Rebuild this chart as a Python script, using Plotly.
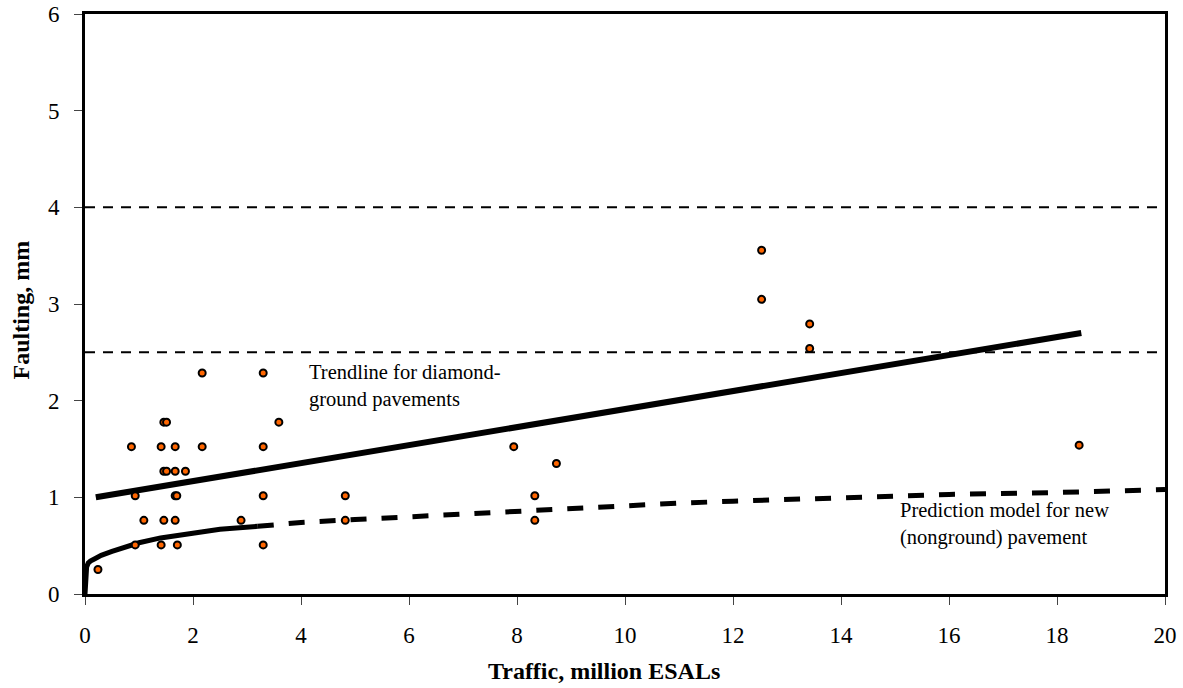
import plotly.graph_objects as go

# ---- data ----
traffic = [0.24, 0.86, 0.93, 0.93, 1.09, 1.41, 1.41, 1.46, 1.51, 1.46, 1.51, 1.46,
           1.67, 1.67, 1.67, 1.70, 1.67, 1.71, 1.86, 2.17, 2.17, 2.89,
           3.30, 3.30, 3.30, 3.30, 3.59, 4.82, 4.82, 7.94, 8.33, 8.33, 8.73,
           12.53, 12.53, 13.42, 13.42, 18.41]
faulting = [0.254, 1.524, 1.016, 0.508, 0.762, 1.524, 0.508, 1.778, 1.778, 1.27, 1.27, 0.762,
            1.524, 1.27, 1.016, 1.016, 0.762, 0.508, 1.27, 2.286, 1.524, 0.762,
            2.286, 1.524, 1.016, 0.508, 1.778, 1.016, 0.762, 1.524, 1.016, 0.762, 1.35,
            3.556, 3.048, 2.794, 2.54, 1.54]

trend_x = [0.2, 18.45]
trend_y = [1.0, 2.70]

pred_x_near = [0, 0.01, 0.03, 0.06, 0.1, 0.2, 0.3, 0.5, 0.75, 1.0, 1.4, 2.0, 2.5, 3.2]
pred_y_near = [0, 0.2, 0.28, 0.32, 0.34, 0.37, 0.40, 0.44, 0.49, 0.53, 0.58, 0.63, 0.67, 0.70]
pred_x_far = [3.2, 4, 5, 6, 7, 8, 9, 10, 11, 12, 14, 16, 18, 20]
pred_y_far = [0.70, 0.74, 0.77, 0.80, 0.83, 0.86, 0.89, 0.91, 0.94, 0.96, 1.0, 1.03, 1.05, 1.08]

limit_levels = [2.5, 4.0]
x_range = [0, 20]
y_range = [0, 6]

FONT = "Liberation Serif, Times New Roman, serif"

fig = go.Figure()

for lv in limit_levels:
    fig.add_trace(go.Scatter(x=x_range, y=[lv, lv], mode="lines",
                             line=dict(color="black", width=2, dash="10px,8px"),
                             hoverinfo="skip", showlegend=False))

fig.add_trace(go.Scatter(x=pred_x_near, y=pred_y_near, mode="lines",
                         line=dict(color="black", width=5),
                         showlegend=False))
fig.add_trace(go.Scatter(x=pred_x_far, y=pred_y_far, mode="lines",
                         line=dict(color="black", width=5, dash="16px,15px"),
                         showlegend=False))
fig.add_trace(go.Scatter(x=trend_x, y=trend_y, mode="lines",
                         line=dict(color="black", width=6),
                         showlegend=False))
fig.add_trace(go.Scatter(x=traffic, y=faulting, mode="markers",
                         marker=dict(size=7, color="#FF6600",
                                     line=dict(color="black", width=2)),
                         showlegend=False))

PX = 54.0   # px per x unit (layout only, for annotation placement)
PY = 580 / 6.0

def dy(py):
    return (594 - py) / PY

def dx(px):
    return (px - 85) / PX

ann_font = dict(family=FONT, size=20.5, color="black")
notes = [
    ("Trendline for diamond-<br>ground pavements", 306.5, 385.5),
    ("Prediction model for new<br>(nonground) pavement", 898, 524),
]
for txt, px, py in notes:
    fig.add_annotation(x=dx(px), y=dy(py), xref="x", yref="y", text=txt,
                       showarrow=False, xanchor="left", yanchor="middle", align="left",
                       font=ann_font)

fig.add_annotation(x=(604 - 85) / 1080, y=(594 - 671) / 580, xref="paper", yref="paper",
                   text="<b>Traffic, million ESALs</b>", showarrow=False,
                   xanchor="center", yanchor="middle",
                   font=dict(family=FONT, size=24, color="black"))
fig.add_annotation(x=(20 - 85) / 1080, y=(594 - 310.5) / 580, xref="paper", yref="paper",
                   text="<b>Faulting, mm</b>", showarrow=False, textangle=-90,
                   xanchor="center", yanchor="middle",
                   font=dict(family=FONT, size=24, color="black"))

axis_common = dict(showgrid=False, zeroline=False, showline=True, linecolor="black",
                   linewidth=3, mirror=True, ticks="outside", ticklen=8, tickwidth=1,
                   tickcolor="#444", tickfont=dict(family=FONT, size=23, color="black"))

fig.update_xaxes(range=x_range, dtick=2, tick0=0, ticklabelstandoff=10, **axis_common)
fig.update_yaxes(range=y_range, dtick=1, tick0=0, ticklabelstandoff=10, **axis_common)

fig.update_layout(width=1183, height=688,
                  margin=dict(l=85, r=18, t=14, b=94, autoexpand=False),
                  plot_bgcolor="white", paper_bgcolor="white",
                  font=dict(family=FONT))

fig.write_html("out.html")
